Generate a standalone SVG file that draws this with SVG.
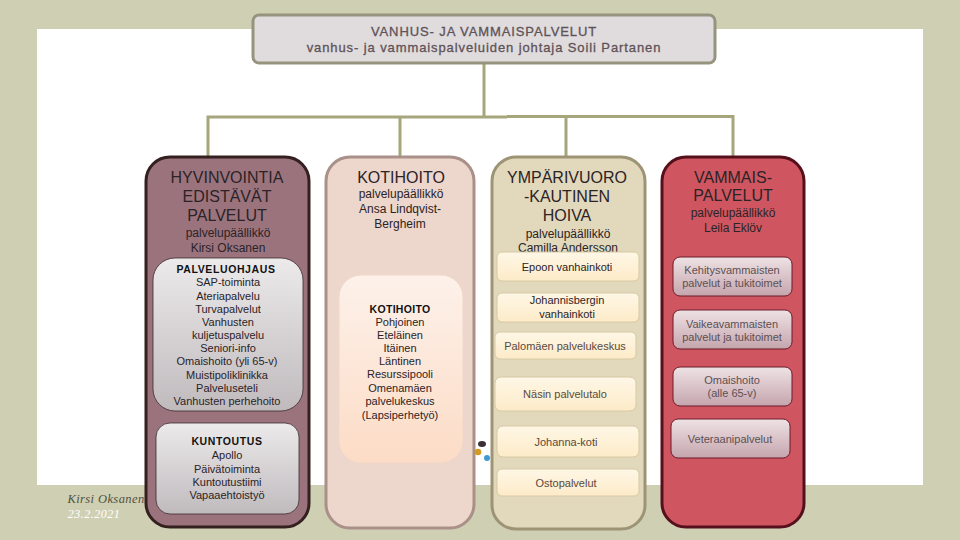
<svg xmlns="http://www.w3.org/2000/svg" width="960" height="540" viewBox="0 0 960 540">
<style>
text{font-family:"Liberation Sans",Arial,sans-serif;text-anchor:middle;fill:#262224}
.h{font-size:13px;letter-spacing:.9px;fill:#5e5358;stroke:#5e5358;stroke-width:.3px}
.t{font-size:16px;fill:#2b2326}
.s{font-size:12px;fill:#2b2326}
.i{font-size:11px;fill:#2b2326}
.b{font-size:10.5px;font-weight:700;letter-spacing:.6px;fill:#111}
.g{font-size:11px;fill:#5a4a3c}
.r{font-size:11px;fill:#5c5054}
.c{fill:none;stroke:#a6a67c;stroke-width:3}
.a{fill:url(#gy);stroke:#3a2a2e;stroke-width:.8}
.o{fill:url(#yl);stroke:#d6c9a4;stroke-width:1}
.v{fill:url(#pk);stroke:#6b1a28;stroke-width:1}
</style>
<defs>
<linearGradient id="gy" x1="0" y1="0" x2="0" y2="1"><stop offset="0" stop-color="#eceaeb"/><stop offset="1" stop-color="#c0babd"/></linearGradient>
<linearGradient id="pe" x1="0" y1="0" x2="0" y2="1"><stop offset="0" stop-color="#fdf1ea"/><stop offset="1" stop-color="#fcdcc6"/></linearGradient>
<linearGradient id="yl" x1="0" y1="0" x2="0" y2="1"><stop offset="0" stop-color="#fef7e6"/><stop offset="1" stop-color="#fdebc8"/></linearGradient>
<linearGradient id="pk" x1="0" y1="0" x2="0" y2="1"><stop offset="0" stop-color="#eee2e4"/><stop offset="1" stop-color="#c5a5ad"/></linearGradient>
</defs>
<rect width="960" height="540" fill="#cfcfb3"/>
<rect x="37" y="29" width="886" height="456" fill="#fff"/>
<g id="footer">
<text x="106" y="503" style="font-family:'Liberation Serif',serif;font-style:italic;font-size:12.5px;letter-spacing:.4px;fill:#4f4f40">Kirsi Oksanen</text>
<text x="94" y="518" style="font-family:'Liberation Serif',serif;font-style:italic;font-size:12px;letter-spacing:.5px;fill:#fff">23.2.2021</text>
</g>
<g id="connectors">
<path class="c" d="M484 63V117M208 157V117H507M400 117V157M507 116.500H733V157M566 116.500V157"/>
</g>
<g id="root">
<rect x="253" y="15" width="462" height="48" rx="6" fill="#e0dbdc" stroke="#96937f" stroke-width="3"/>
<text class="h" x="484" y="36">VANHUS- JA VAMMAISPALVELUT</text>
<text class="h" x="484" y="52">vanhus- ja vammaispalveluiden johtaja Soili Partanen</text>
</g>
<g id="col1">
<rect x="146" y="157" width="163" height="370" rx="24" fill="#9b737d" stroke="#33201f" stroke-width="3"/>
<text class="t" x="227" y="183">HYVINVOINTIA</text>
<text class="t" x="227" y="202">EDISTÄVÄT</text>
<text class="t" x="227" y="221">PALVELUT</text>
<text class="s" x="228" y="237">palvelupäällikkö</text>
<text class="s" x="228" y="252">Kirsi Oksanen</text>
</g>
<g id="palveluohjaus">
<rect class="a" x="153" y="258" width="150" height="153" rx="22"/>
<text class="b" x="226" y="273">PALVELUOHJAUS</text>
<text class="i" x="228" y="286">SAP-toiminta</text>
<text class="i" x="228" y="300">Ateriapalvelu</text>
<text class="i" x="228" y="313">Turvapalvelut</text>
<text class="i" x="228" y="326">Vanhusten</text>
<text class="i" x="228" y="339">kuljetuspalvelu</text>
<text class="i" x="228" y="352">Seniori-info</text>
<text class="i" x="227" y="365">Omaishoito (yli 65-v)</text>
<text class="i" x="227" y="379">Muistipoliklinikka</text>
<text class="i" x="227" y="392">Palveluseteli</text>
<text class="i" x="227" y="405">Vanhusten perhehoito</text>
</g>
<g id="kuntoutus">
<rect class="a" x="156" y="423" width="143" height="91" rx="14"/>
<text class="b" x="227" y="445">KUNTOUTUS</text>
<text class="i" x="227" y="459">Apollo</text>
<text class="i" x="227" y="473">Päivätoiminta</text>
<text class="i" x="227" y="486">Kuntoutustiimi</text>
<text class="i" x="227" y="499">Vapaaehtoistyö</text>
</g>
<g id="col2">
<rect x="326" y="157" width="148" height="371" rx="24" fill="#edd6cc" stroke="#a99088" stroke-width="3"/>
<text class="t" x="401" y="183">KOTIHOITO</text>
<text class="s" x="401" y="198">palvelupäällikkö</text>
<text class="s" x="400" y="213">Ansa Lindqvist-</text>
<text class="s" x="400" y="228">Bergheim</text>
</g>
<g id="kotihoito">
<rect x="339" y="275" width="124" height="188" rx="22" fill="url(#pe)" stroke="#f0d8c8" stroke-width="1"/>
<text class="b" x="400" y="313" style="letter-spacing:.3px">KOTIHOITO</text>
<text class="i" x="400" y="326">Pohjoinen</text>
<text class="i" x="400" y="339">Eteläinen</text>
<text class="i" x="400" y="352">Itäinen</text>
<text class="i" x="400" y="365">Läntinen</text>
<text class="i" x="400" y="378">Resurssipooli</text>
<text class="i" x="400" y="392">Omenamäen</text>
<text class="i" x="400" y="405">palvelukeskus</text>
<text class="i" x="400" y="419">(Lapsiperhetyö)</text>
</g>
<g id="blobs">
<ellipse cx="482" cy="444" rx="4" ry="3" fill="#3a3035"/>
<circle cx="478" cy="452" r="3.300" fill="#d39a22"/>
<circle cx="487" cy="458" r="3" fill="#3f9ad0"/>
</g>
<g id="col3">
<rect x="492" y="157" width="153" height="372" rx="24" fill="#e2d8bc" stroke="#9d9375" stroke-width="3"/>
<text class="t" x="567" y="183">YMPÄRIVUORO</text>
<text class="t" x="567" y="202">-KAUTINEN</text>
<text class="t" x="567" y="221">HOIVA</text>
<text class="s" x="568" y="238">palvelupäällikkö</text>
<text class="s" x="568" y="252">Camilla Andersson</text>
</g>
<g id="epoon"><rect class="o" x="497" y="252" width="142" height="29" rx="5"/><text class="i" x="567" y="271">Epoon vanhainkoti</text></g>
<g id="johannisberg"><rect class="o" x="497" y="293" width="142" height="29" rx="5"/><text class="i" x="567" y="304">Johannisbergin</text><text class="i" x="567" y="318">vanhainkoti</text></g>
<g id="palomaki"><rect class="o" x="495" y="332" width="141" height="27" rx="5"/><text class="g" x="565" y="350">Palomäen palvelukeskus</text></g>
<g id="nasi"><rect class="o" x="495" y="377" width="141" height="34" rx="6"/><text class="g" x="565" y="398">Näsin palvelutalo</text></g>
<g id="johanna"><rect class="o" x="497" y="426" width="142" height="31" rx="6"/><text class="g" x="566" y="446">Johanna-koti</text></g>
<g id="osto"><rect class="o" x="497" y="469" width="142" height="27" rx="5"/><text class="g" x="566" y="487">Ostopalvelut</text></g>
<g id="col4">
<rect x="662" y="157" width="142" height="370" rx="24" fill="#cf5660" stroke="#55101c" stroke-width="3"/>
<text class="t" x="733" y="183">VAMMAIS-</text>
<text class="t" x="733" y="201">PALVELUT</text>
<text class="s" x="733" y="217">palvelupäällikkö</text>
<text class="s" x="733" y="232">Leila Eklöv</text>
</g>
<g id="kehitys"><rect class="v" x="673" y="257" width="119" height="39" rx="7"/><text class="r" x="732" y="274">Kehitysvammaisten</text><text class="r" x="732" y="287">palvelut ja tukitoimet</text></g>
<g id="vaikea"><rect class="v" x="673" y="310" width="119" height="39" rx="7"/><text class="r" x="732" y="328">Vaikeavammaisten</text><text class="r" x="732" y="341">palvelut ja tukitoimet</text></g>
<g id="omaishoito"><rect class="v" x="673" y="367" width="119" height="39" rx="7"/><text class="r" x="732" y="384">Omaishoito</text><text class="r" x="732" y="397">(alle 65-v)</text></g>
<g id="veteraani"><rect class="v" x="671" y="419" width="119" height="39" rx="7"/><text class="r" x="730" y="443">Veteraanipalvelut</text></g>
</svg>
